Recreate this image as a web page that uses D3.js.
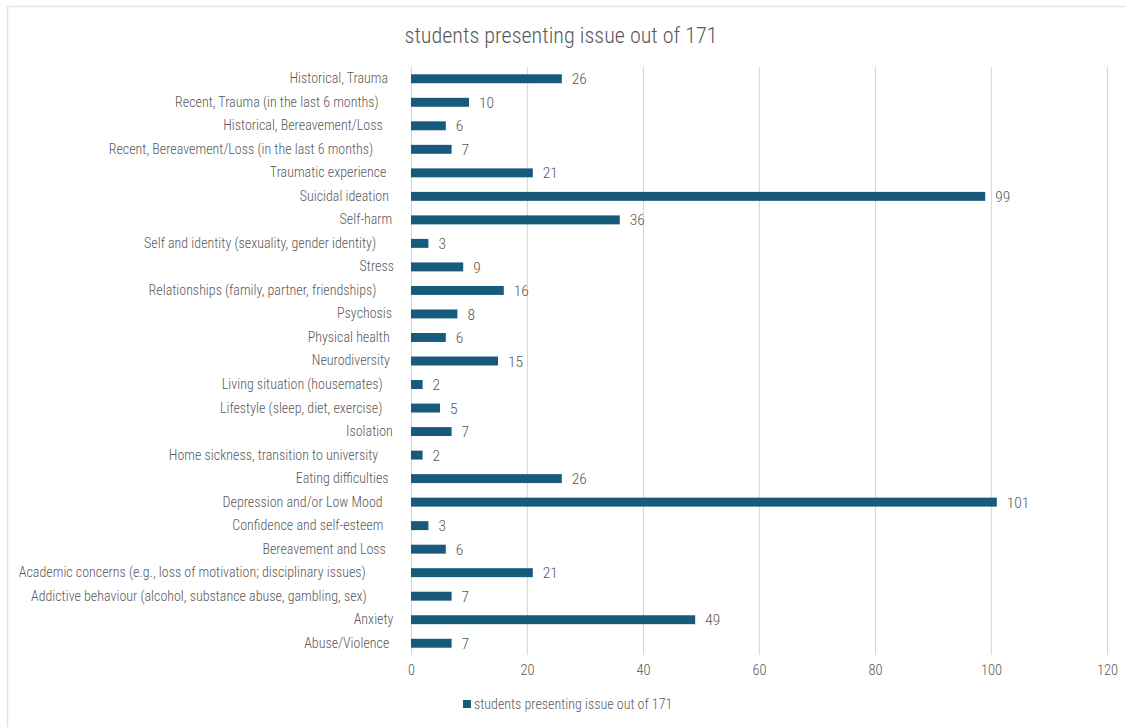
<!DOCTYPE html>
<html>
<head>
<meta charset="utf-8">
<script src="https://cdn.jsdelivr.net/npm/d3@7/dist/d3.min.js"></script>
<style>
  html, body { margin: 0; padding: 0; background: #fff; }
  svg { display: block; }
  text { font-family: "Liberation Sans Narrow", "Roboto Condensed", "Arial Narrow", sans-serif; fill: #595959; font-weight: 300; }
</style>
</head>
<body>
<svg id="chart" width="1125" height="727"></svg>
<script>
// Presenting issues, listed top to bottom
const categories = [
  "Historical, Trauma",
  "Recent, Trauma (in the last 6 months)",
  "Historical, Bereavement/Loss",
  "Recent, Bereavement/Loss (in the last 6 months)",
  "Traumatic experience",
  "Suicidal ideation",
  "Self-harm",
  "Self and identity (sexuality, gender identity)",
  "Stress",
  "Relationships (family, partner, friendships)",
  "Psychosis",
  "Physical health",
  "Neurodiversity",
  "Living situation (housemates)",
  "Lifestyle (sleep, diet, exercise)",
  "Isolation",
  "Home sickness, transition to university",
  "Eating difficulties",
  "Depression and/or Low Mood",
  "Confidence and self-esteem",
  "Bereavement and Loss",
  "Academic concerns (e.g., loss of motivation; disciplinary issues)",
  "Addictive behaviour (alcohol, substance abuse, gambling, sex)",
  "Anxiety",
  "Abuse/Violence"
];
const values = [26, 10, 6, 7, 21, 99, 36, 3, 9, 16, 8, 6, 15, 2, 5, 7, 2, 26, 101, 3, 6, 21, 7, 49, 7];
const xTicks = [0, 20, 40, 60, 80, 100, 120];
const seriesName = "students presenting issue out of 171";
const chartTitle = "students presenting issue out of 171";

const svg = d3.select("#chart");
const barColor = "#175a7c";
const gridColor = "#d9d9d9";
const textColor = "#595959";
const fontStack = "'Liberation Sans Narrow', 'Roboto Condensed', sans-serif";

// outer frame (top and left edges)
svg.append("path")
  .attr("d", "M7.5,727 V6.5 H1125")
  .attr("fill", "none")
  .attr("stroke", "#e3e3e3")
  .attr("stroke-width", 1.5);

const plot = { left: 411, right: 1107, top: 67, bottom: 655 };

const x = d3.scaleLinear().domain([0, 120]).range([plot.left, plot.right]);
const y = d3.scaleBand().domain(categories).range([plot.top, plot.bottom]).paddingInner(0.62).paddingOuter(0.31);

// title
svg.append("text")
  .attr("x", 561).attr("y", 43)
  .attr("text-anchor", "middle")
  .style("font-size", "22.1px")
  .text(chartTitle);

// vertical gridlines
svg.append("g").selectAll("line")
  .data(xTicks)
  .join("line")
  .attr("x1", d => Math.round(x(d)) + 0.5)
  .attr("x2", d => Math.round(x(d)) + 0.5)
  .attr("y1", plot.top)
  .attr("y2", plot.bottom)
  .attr("stroke", gridColor)
  .attr("stroke-width", 1.2);

// x axis tick labels
const xAxis = d3.axisBottom(x).tickValues(xTicks).tickSize(0).tickPadding(0);
const gx = svg.append("g").attr("transform", `translate(0,${plot.bottom + 20})`).call(xAxis);
gx.select(".domain").remove();
gx.selectAll("text")
  .style("font-size", "14.5px")
  .style("font-family", fontStack)
  .attr("fill", textColor)
  .attr("dy", "0");

// category labels; longer labels sit slightly further from the axis
const yAxis = d3.axisLeft(y).tickSize(0).tickPadding(0);
const gy = svg.append("g").attr("transform", `translate(397,0)`).call(yAxis);
gy.select(".domain").remove();
gy.selectAll("text")
  .style("font-size", "14px")
  .style("font-family", fontStack)
  .attr("fill", textColor)
  .each(function () {
    const w = this.getComputedTextLength();
    d3.select(this).attr("x", -0.09 * w);
  });

// bars
svg.append("g").selectAll("rect")
  .data(values)
  .join("rect")
  .attr("x", x(0))
  .attr("y", (d, i) => y(categories[i]))
  .attr("width", d => x(d) - x(0))
  .attr("height", y.bandwidth())
  .attr("fill", barColor);

// value labels
svg.append("g").selectAll("text")
  .data(values)
  .join("text")
  .attr("x", d => x(d) + 10)
  .attr("y", (d, i) => y(categories[i]) + y.bandwidth() / 2)
  .attr("dy", "0.36em")
  .style("font-size", "15.5px")
  .text(d => d);

// legend
const legend = svg.append("g").attr("transform", "translate(463,704)");
legend.append("rect")
  .attr("x", 0).attr("y", -4).attr("width", 8).attr("height", 8)
  .attr("fill", barColor);
legend.append("text")
  .attr("x", 11).attr("y", 0).attr("dy", "0.35em")
  .style("font-size", "14px")
  .text(seriesName);
</script>
</body>
</html>
